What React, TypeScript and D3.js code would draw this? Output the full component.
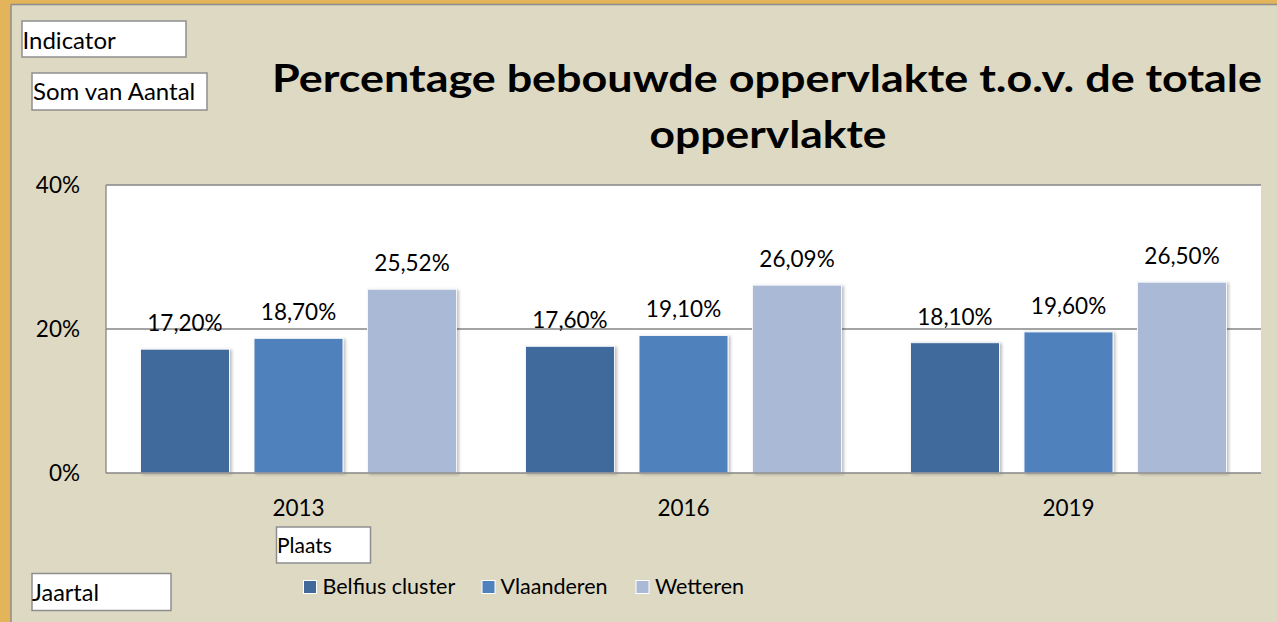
import React from "react";
import * as d3 from "d3";

const years = ["2013", "2016", "2019"];
const seriesNames = ["Belfius cluster", "Vlaanderen", "Wetteren"];
const belfius = [17.2, 17.6, 18.1];
const vlaanderen = [18.7, 19.1, 19.6];
const wetteren = [25.52, 26.09, 26.5];
const yTicks = [0, 20, 40];
const colors = ["#416A9B", "#4F81BD", "#AAB9D6"];
const titleLines = ["Percentage bebouwde oppervlakte t.o.v. de totale", "oppervlakte"];

const W = 1277;
const H = 622;
const FONT = "Lato, 'Open Sans', sans-serif";

const locale = d3.formatLocale({ decimal: ",", thousands: ".", grouping: [3], currency: ["€", ""] });
const fmt = locale.format(".2f");

export default function App() {
  const seriesValues = [belfius, vlaanderen, wetteren];
  const plot = { left: 106, right: 1261, top: 185, bottom: 473 };
  const x0 = d3.scaleBand<string>().domain(years).range([plot.left, plot.right]).paddingInner(0).paddingOuter(0);
  const x1 = d3.scaleBand<string>().domain(seriesNames).range([0, x0.bandwidth()]).paddingInner(0.216).paddingOuter(0.304);
  const y = d3.scaleLinear().domain([0, 40]).range([plot.bottom, plot.top]);

  const box = (x: number, yy: number, w: number, h: number, label: string, tx: number, ty: number, fs: number) => (
    <g key={label}>
      <rect x={x} y={yy} width={w} height={h} fill="#ffffff" stroke="#8E8E8E" strokeWidth={1.5} />
      <text x={tx} y={ty} fontFamily={FONT} fontSize={fs} fill="#000">{label}</text>
    </g>
  );

  const legendItems = [
    { sq: 303.5, tx: 322.5 },
    { sq: 482, tx: 500.5 },
    { sq: 636, tx: 655 },
  ];

  return (
    <svg width={W} height={H} style={{ position: "absolute", left: 0, top: 0, display: "block" }}>
      <defs>
        <filter id="shadow" x="-20%" y="-20%" width="140%" height="140%">
          <feDropShadow dx={2} dy={1} stdDeviation={1.5} floodColor="#000" floodOpacity={0.25} />
        </filter>
      </defs>
      {/* outer frame */}
      <rect x={0} y={0} width={W} height={H} fill="#E3B45A" />
      <rect x={11} y={4.5} width={W - 11} height={H - 4.5} fill="#DDD9C3" />
      <line x1={11} y1={4.5} x2={W} y2={4.5} stroke="#8C8C8C" strokeWidth={1.5} />
      <line x1={11} y1={4.5} x2={11} y2={H} stroke="#8C8C8C" strokeWidth={1.5} />

      {/* field buttons */}
      {box(22, 21, 164, 36, "Indicator", 22.5, 48.5, 24)}
      {box(32, 73, 175, 37, "Som van Aantal", 33, 100, 24)}
      {box(276.5, 527, 94, 36, "Plaats", 277, 553, 21)}
      {box(32, 573.5, 139, 37, "Jaartal", 32, 601, 23.5)}

      {/* title */}
      <text x={767} y={92} textAnchor="middle" fontFamily={FONT} fontWeight="bold" fontSize={38} fill="#000" textLength={990} lengthAdjust="spacingAndGlyphs">{titleLines[0]}</text>
      <text x={768} y={148} textAnchor="middle" fontFamily={FONT} fontWeight="bold" fontSize={38} fill="#000" textLength={237} lengthAdjust="spacingAndGlyphs">{titleLines[1]}</text>

      {/* plot area */}
      <rect x={plot.left} y={plot.top} width={plot.right - plot.left} height={plot.bottom - plot.top} fill="#ffffff" />
      {yTicks.filter((t) => t > 0).map((t) => (
        <line key={t} x1={plot.left} x2={plot.right} y1={y(t)} y2={y(t)} stroke="#868686" strokeWidth={1.3} />
      ))}
      {yTicks.map((t) => (
        <text key={"yl" + t} x={80} y={y(t) + 8} textAnchor="end" fontFamily={FONT} fontSize={22.5} fill="#000">{t + "%"}</text>
      ))}

      {/* bars */}
      {years.map((yr, i) => (
        <g key={yr} transform={`translate(${x0(yr)},0)`}>
          {seriesNames.map((s, j) => {
            const v = seriesValues[j][i];
            const bx = x1(s)!;
            return (
              <g key={s}>
                <rect x={bx} y={y(v)} width={x1.bandwidth()} height={plot.bottom - y(v)} fill={colors[j]} stroke="#F4F6FA" strokeWidth={1} filter="url(#shadow)" />
                <text x={bx + x1.bandwidth() / 2} y={y(v) - 18} textAnchor="middle" fontFamily={FONT} fontSize={22.5} fill="#000">{fmt(v) + "%"}</text>
              </g>
            );
          })}
        </g>
      ))}

      {/* axes lines */}
      <line x1={plot.left} x2={plot.left} y1={plot.top} y2={plot.bottom} stroke="#868686" strokeWidth={1.3} />
      <line x1={plot.left} x2={plot.right} y1={plot.bottom} y2={plot.bottom} stroke="#868686" strokeWidth={1.3} />
      {years.map((yr) => (
        <text key={"xl" + yr} x={x0(yr)! + x0.bandwidth() / 2} y={516} textAnchor="middle" fontFamily={FONT} fontSize={22.5} fill="#000">{yr}</text>
      ))}

      {/* legend */}
      {seriesNames.map((s, j) => (
        <g key={"lg" + s}>
          <rect x={legendItems[j].sq} y={580.5} width={13} height={13} fill={colors[j]} stroke="#ffffff" strokeWidth={1} />
          <text x={legendItems[j].tx} y={594} fontFamily={FONT} fontSize={21.5} fill="#000">{s}</text>
        </g>
      ))}
    </svg>
  );
}
